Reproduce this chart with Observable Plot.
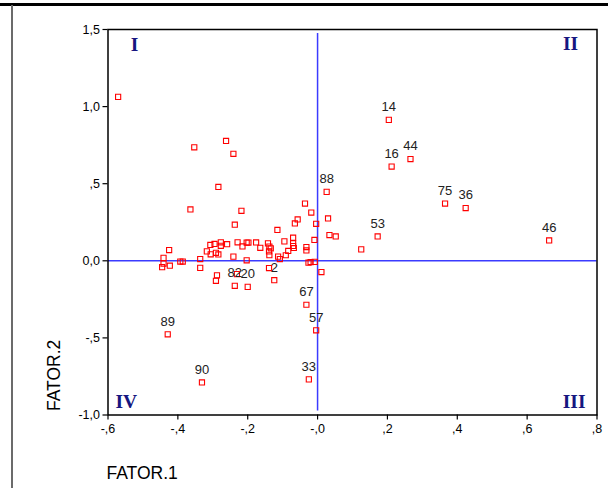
<!DOCTYPE html>
<html><head><meta charset="utf-8">
<script src="https://cdn.jsdelivr.net/npm/d3@7"></script>
<script src="https://cdn.jsdelivr.net/npm/@observablehq/plot@0.6"></script>
<style>
html,body{margin:0;padding:0;background:#fff;}
#wrap{position:relative;width:608px;height:488px;overflow:hidden;}
#chart{position:absolute;left:0;top:0;}
#topline{position:absolute;left:0;top:3px;width:608px;height:3px;background:#000;}
#sideline{position:absolute;left:11px;top:5px;width:2px;height:483px;background:#6b6b6b;}
</style></head>
<body><div id="wrap"><div id="chart"></div><div id="topline"></div><div id="sideline"></div></div>
<script>
// Labelled cases
const labelIds = ["14","16","44","75","36","46","53","88","67","57","89","90","33","82","20","2"];
const labelF1  = [0.204,0.212,0.266,0.365,0.424,0.663,0.172,0.026,-0.032,-0.004,-0.429,-0.331,-0.025,-0.237,-0.200,-0.124];
const labelF2  = [0.914,0.611,0.660,0.371,0.342,0.132,0.158,0.447,-0.285,-0.451,-0.477,-0.789,-0.769,-0.162,-0.169,-0.126];
// Unlabelled cases
const otherF1 = [-0.571,-0.353,-0.262,-0.241,-0.284,-0.364,-0.218,-0.237,-0.036,-0.018,-0.057,-0.065,-0.004,0.030,-0.115,0.034,0.052,-0.070,-0.095,-0.009,0.125,
  -0.425,-0.441,-0.441,-0.445,-0.423,-0.393,-0.386,-0.336,-0.336,-0.317,-0.307,-0.295,-0.277,-0.277,-0.259,-0.306,-0.291,-0.284,-0.229,-0.215,-0.203,-0.198,
  -0.241,-0.203,-0.176,-0.164,-0.142,-0.138,-0.134,-0.139,-0.138,-0.070,-0.070,-0.068,-0.084,-0.091,-0.113,-0.108,-0.032,-0.032,-0.026,-0.020,-0.008,
  -0.139,0.011,-0.288,-0.291,-0.231];
const otherF2 = [1.063,0.736,0.777,0.694,0.479,0.333,0.324,0.234,0.371,0.313,0.268,0.242,0.240,0.275,0.200,0.167,0.158,0.150,0.126,0.135,0.074,
  0.070,0.019,-0.018,-0.041,-0.032,-0.005,-0.005,0.011,-0.046,0.061,0.103,0.109,0.120,0.097,0.108,0.042,0.052,0.041,0.120,0.093,0.118,0.118,
  0.027,0.003,0.119,0.084,0.113,0.092,0.081,0.061,0.036,0.114,0.096,0.083,0.064,0.036,0.027,0.011,0.089,0.067,-0.012,-0.008,-0.007,
  -0.047,-0.073,-0.094,-0.130,-0.086];

const xTicks = [-0.6,-0.4,-0.2,0,0.2,0.4,0.6,0.8];
const xTickLabels = ["-,6","-,4","-,2","-,0",",2",",4",",6",",8"];
const yTicks = [-1,-0.5,0,0.5,1,1.5];
const yTickLabels = ["-1,0","-,5","0,0",",5","1,0","1,5"];
const xTitle = "FATOR.1";
const yTitle = "FATOR.2";
const quadrants = ["I","II","III","IV"];

const labelled = labelIds.map((id,i)=>({id, f1: labelF1[i], f2: labelF2[i]}));
const others = otherF1.map((v,i)=>({id:"", f1: v, f2: otherF2[i]}));
const points = others.concat(labelled);

const xFmt = new Map(xTicks.map((t,i)=>[Math.round(t*10), xTickLabels[i]]));
const yFmt = new Map(yTicks.map((t,i)=>[Math.round(t*10), yTickLabels[i]]));

const font = "'Liberation Sans', Arial, Helvetica, sans-serif";
const serif = "'Liberation Serif', 'Times New Roman', serif";
const qColor = "#161680";
const blue = "#3b3bff";

const chart = Plot.plot({
  width: 608, height: 488,
  marginLeft: 107.5, marginRight: 11.5, marginTop: 29, marginBottom: 73.5,
  style: {fontFamily: font, background: "transparent", color: "#000"},
  x: {domain: [-0.6, 0.8]},
  y: {domain: [-1, 1.5]},
  marks: [
    Plot.axisX({ticks: xTicks, tickSize: 5, tickPadding: 4, fontSize: 12.5, label: null,
      tickFormat: d => xFmt.get(Math.round(d*10)), stroke: "#000", strokeWidth: 1.2}),
    Plot.axisY({ticks: yTicks, tickSize: 5, tickPadding: 3, fontSize: 12.5, label: null,
      tickFormat: d => yFmt.get(Math.round(d*10)), stroke: "#000", strokeWidth: 1.2}),
    Plot.ruleX([0], {stroke: blue, strokeWidth: 1.5, insetTop: 4, insetBottom: 4}),
    Plot.ruleY([0], {stroke: blue, strokeWidth: 1.5}),
    Plot.dot(points, {x: "f1", y: "f2", symbol: "square", r: 2.9, stroke: "#ff0000", strokeWidth: 1.1, fill: "none"}),
    Plot.text(labelled, {x: "f1", y: "f2", text: "id", dy: -8.7, lineAnchor: "bottom", fontSize: 13, fill: "#222"}),
    Plot.frame({stroke: "#000", strokeWidth: 1.5}),
    Plot.text([quadrants[0]], {frameAnchor: "top-left", textAnchor: "middle", lineAnchor: "bottom", dx: 26.5, dy: 21, fontSize: 19.5, fontWeight: "bold", fontFamily: serif, fill: qColor}),
    Plot.text([quadrants[1]], {frameAnchor: "top-right", textAnchor: "middle", lineAnchor: "bottom", dx: -26.5, dy: 20.5, fontSize: 19.5, fontWeight: "bold", fontFamily: serif, fill: qColor}),
    Plot.text([quadrants[2]], {frameAnchor: "bottom-right", textAnchor: "end", lineAnchor: "bottom", dx: -11.5, dy: -7.5, fontSize: 19.5, fontWeight: "bold", fontFamily: serif, fill: qColor}),
    Plot.text([quadrants[3]], {frameAnchor: "bottom-left", textAnchor: "start", lineAnchor: "bottom", dx: 7.5, dy: -7.5, fontSize: 19.5, fontWeight: "bold", fontFamily: serif, fill: qColor}),
    Plot.text([xTitle], {frameAnchor: "bottom-left", textAnchor: "start", lineAnchor: "bottom", dx: -1.5, dy: 64, fontSize: 17.5, fill: "#000"}),
    Plot.text([yTitle], {frameAnchor: "bottom-left", textAnchor: "start", lineAnchor: "bottom", rotate: -90, dx: -48, dy: -4, fontSize: 17.5, fill: "#000"})
  ]
});
document.getElementById("chart").appendChild(chart);
</script>
</body></html>
